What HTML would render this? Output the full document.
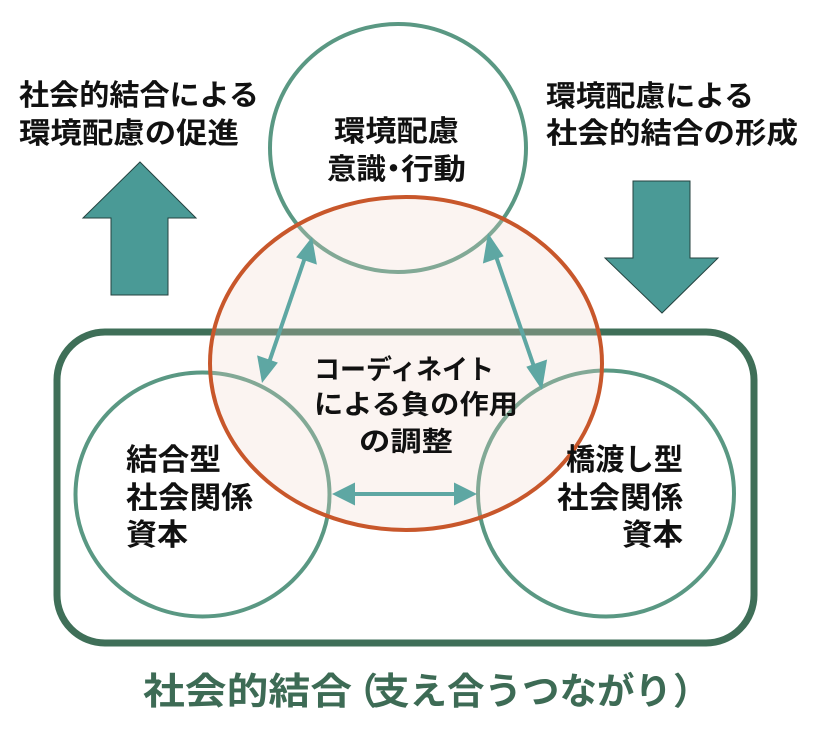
<!DOCTYPE html>
<html lang="ja">
<head>
<meta charset="utf-8">
<style>
  html, body { margin: 0; padding: 0; background: #ffffff; }
  body { width: 820px; height: 738px; overflow: hidden; }
  svg { display: block; }
  text { font-family: "Liberation Sans", "Noto Sans CJK JP", sans-serif; font-weight: bold; }
</style>
</head>
<body>
<svg width="820" height="738" viewBox="0 0 820 738" xmlns="http://www.w3.org/2000/svg">
  <rect x="0" y="0" width="820" height="738" fill="#ffffff"/>

  <!-- Block arrows -->
  <polygon points="140,162 196,218 168,218 168,295 111,295 111,218 83,218" fill="#4a9a96" stroke="#24423f" stroke-width="1"/>
  <polygon points="633,181 690,181 690,258 718,258 662,313 605,258 633,258" fill="#4a9a96" stroke="#24423f" stroke-width="1"/>

  <!-- Rounded rectangle -->
  <rect x="57" y="332" width="697" height="311" rx="48" ry="48" fill="none" stroke="#3f6f58" stroke-width="7"/>

  <!-- Circles -->
  <ellipse cx="398" cy="148" rx="128" ry="124" fill="none" stroke="#5a9883" stroke-width="4"/>
  <ellipse cx="202.5" cy="494.5" rx="127" ry="122" fill="none" stroke="#5a9883" stroke-width="4"/>
  <ellipse cx="606" cy="493.5" rx="128" ry="123" fill="none" stroke="#5a9883" stroke-width="4"/>

  <!-- Orange ellipse -->
  <ellipse cx="406" cy="363.5" rx="196" ry="166.5" fill="#efd7cb" fill-opacity="0.27" stroke="none"/>
  <ellipse cx="406" cy="363.5" rx="196" ry="166.5" fill="none" stroke="#c8572b" stroke-width="4"/>

  <!-- Teal double arrows -->
  <g stroke="#5ea7a3" stroke-width="4" fill="#5ea7a3">
    <line x1="305.5" y1="256" x2="268.5" y2="364"/>
    <polygon points="312,237 316.9,264.6 296.1,257.4" stroke="none"/>
    <polygon points="262,383 257.1,355.4 277.9,362.6" stroke="none"/>
    <line x1="494.5" y1="252" x2="535.5" y2="371"/>
    <polygon points="488,233 503.7,256.3 482.9,263.5" stroke="none"/>
    <polygon points="542,390 526.3,366.7 547.1,359.5" stroke="none"/>
    <line x1="352" y1="494" x2="457" y2="494"/>
    <polygon points="332,494 355,482.5 355,505.5" stroke="none"/>
    <polygon points="477,494 454,482.5 454,505.5" stroke="none"/>
  </g>

  <!-- Top-left text -->
  <g fill="#111111" font-size="29">
    <text x="19" y="105" textLength="240" lengthAdjust="spacingAndGlyphs">社会的結合による</text>
    <text x="19" y="143" textLength="220" lengthAdjust="spacingAndGlyphs">環境配慮の促進</text>
  </g>

  <!-- Top-right text -->
  <g fill="#111111" font-size="29">
    <text x="546" y="106" textLength="208" lengthAdjust="spacingAndGlyphs">環境配慮による</text>
    <text x="546" y="143" textLength="252" lengthAdjust="spacingAndGlyphs">社会的結合の形成</text>
  </g>

  <!-- Top circle text -->
  <g fill="#111111" font-size="29">
    <text x="334" y="141" textLength="125" lengthAdjust="spacingAndGlyphs">環境配慮</text>
    <text x="327" y="179" textLength="59" lengthAdjust="spacingAndGlyphs">意識</text>
    <text x="379" y="179">・</text>
    <text x="401" y="179" textLength="65" lengthAdjust="spacingAndGlyphs">行動</text>
  </g>

  <!-- Center text -->
  <g fill="#111111" font-size="27">
    <text x="314" y="379" textLength="180" lengthAdjust="spacingAndGlyphs">コーディネイト</text>
    <text x="314" y="414" textLength="204" lengthAdjust="spacingAndGlyphs">による負の作用</text>
    <text x="359" y="451" textLength="94" lengthAdjust="spacingAndGlyphs">の調整</text>
  </g>

  <!-- Left circle text -->
  <g fill="#111111" font-size="30">
    <text x="126" y="470" textLength="95" lengthAdjust="spacingAndGlyphs">結合型</text>
    <text x="126" y="508" textLength="127" lengthAdjust="spacingAndGlyphs">社会関係</text>
    <text x="126" y="545" textLength="62" lengthAdjust="spacingAndGlyphs">資本</text>
  </g>

  <!-- Right circle text -->
  <g fill="#111111" font-size="30">
    <text x="566" y="470" textLength="117" lengthAdjust="spacingAndGlyphs">橋渡し型</text>
    <text x="557" y="508" textLength="126" lengthAdjust="spacingAndGlyphs">社会関係</text>
    <text x="622" y="545" textLength="61" lengthAdjust="spacingAndGlyphs">資本</text>
  </g>

  <!-- Bottom label -->
  <g fill="#3d6b55" font-size="37">
    <text x="143" y="704" textLength="209" lengthAdjust="spacingAndGlyphs">社会的結合</text>
    <text x="341" y="704">（</text>
    <text x="372" y="704" textLength="300" lengthAdjust="spacingAndGlyphs">支え合うつながり</text>
    <text x="673" y="704">）</text>
  </g>
</svg>
</body>
</html>
